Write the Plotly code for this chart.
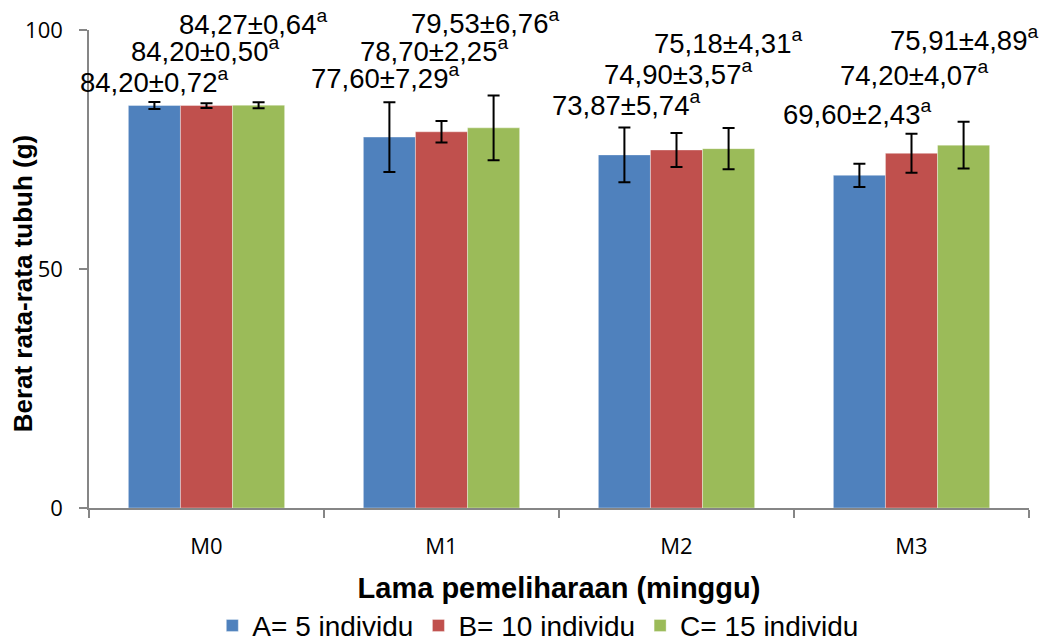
import plotly.graph_objects as go

categories = ["M0", "M1", "M2", "M3"]
series_names = ["A= 5 individu", "B= 10 individu", "C= 15 individu"]
means_A = [84.20, 77.60, 73.87, 69.60]
means_B = [84.20, 78.70, 74.90, 74.20]
means_C = [84.27, 79.53, 75.18, 75.91]
sd_A = [0.72, 7.29, 5.74, 2.43]
sd_B = [0.50, 2.25, 3.57, 4.07]
sd_C = [0.64, 6.76, 4.31, 4.89]
letters_A = ["a", "a", "a", "a"]
letters_B = ["a", "a", "a", "a"]
letters_C = ["a", "a", "a", "a"]

# label placement (layout: height of each label centre in y-axis units, and pixel nudges)
label_y_A = [89.5, 90.2, 84.7, 82.8]
label_y_B = [96.0, 96.0, 91.2, 91.0]
label_y_C = [101.5, 101.7, 97.5, 98.3]
label_dx_A = [0, -4, 2, -2]
label_dx_B = [-2, -8, 1, 2]
label_dx_C = [-6, -9, -1, 0]

colors = ["#4F81BD", "#C0504D", "#9BBB59"]
bargap = 0.335
y_max = 100

means = [means_A, means_B, means_C]
sds = [sd_A, sd_B, sd_C]
letters = [letters_A, letters_B, letters_C]
label_ys = [label_y_A, label_y_B, label_y_C]
label_dxs = [label_dx_A, label_dx_B, label_dx_C]

fig = go.Figure()
for i in range(3):
    fig.add_trace(go.Bar(
        x=categories, y=means[i], name=series_names[i],
        marker=dict(color=colors[i], line=dict(width=0.6, color="rgba(255,255,255,0.6)")),
        error_y=dict(type="data", array=sds[i], visible=True, color="black",
                     thickness=2, width=6),
    ))

def fmt(v):
    return f"{v:.2f}".replace(".", ",")

bw = (1 - bargap) / 3
annotations = []
for i in range(3):
    for j in range(len(categories)):
        annotations.append(dict(
            x=j + (i - 1) * bw, y=label_ys[i][j] / y_max, xref="x", yref="paper",
            xshift=label_dxs[i][j],
            text=f"{fmt(means[i][j])}±{fmt(sds[i][j])}<sup>{letters[i][j]}</sup>",
            showarrow=False, xanchor="center", yanchor="middle",
            font=dict(family="Liberation Sans, Arial", size=27.5, color="black"),
        ))

annotations.append(dict(
    x=0, xref="paper", xshift=-66, y=0.47, yref="paper",
    text="<b>Berat rata-rata tubuh (g)</b>", textangle=-90, showarrow=False,
    xanchor="center", yanchor="middle",
    font=dict(family="Liberation Sans, Arial", size=26, color="black"),
))

fig.update_layout(
    width=1050, height=641,
    margin=dict(l=81, r=29, t=22, b=141, autoexpand=False),
    plot_bgcolor="white", paper_bgcolor="white",
    barmode="group", bargap=bargap, bargroupgap=0,
    showlegend=True,
    legend=dict(orientation="h", x=0.478, xanchor="center", y=-0.194, yanchor="top",
                font=dict(family="Liberation Sans, Arial", size=28, color="black"),
                itemwidth=30, tracegroupgap=0),
    annotations=annotations,
)
fig.update_xaxes(
    type="category", range=[-0.5, len(categories) - 0.5],
    showline=True, linecolor="#868686", linewidth=1.5, automargin=False,
    ticks="outside", tickson="boundaries", ticklen=8, tickcolor="#868686", tickwidth=1.5,
    tickfont=dict(family="Open Sans", size=22, color="black"),
    ticklabelstandoff=18,
    title=dict(text="<b>Lama pemeliharaan (minggu)</b>", standoff=19,
               font=dict(family="Liberation Sans, Arial", size=29, color="black")),
    showgrid=False, zeroline=False,
)
fig.update_yaxes(
    range=[0, y_max], tickvals=[0, 50, 100], showline=True, linecolor="#868686", linewidth=1.5,
    automargin=False,
    ticks="outside", ticklen=8, tickcolor="#868686", tickwidth=1.5,
    tickfont=dict(family="Open Sans", size=22, color="black"),
    ticklabelstandoff=12,
    showgrid=False, zeroline=False,
)

fig.write_html("out.html")
